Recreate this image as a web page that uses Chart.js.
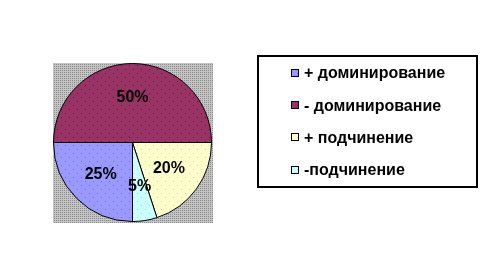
<!DOCTYPE html>
<html>
<head>
<meta charset="utf-8">
<script src="https://cdn.jsdelivr.net/npm/chart.js@4"></script>
<style>
  html, body { margin: 0; padding: 0; background: #fff; }
  #wrap { width: 499px; height: 259px; }
</style>
</head>
<body>
<div id="wrap"><canvas id="pieChart" width="499" height="259"></canvas></div>
<script>
// Chart data
const categories = ['+ доминирование', '- доминирование', '+ подчинение', '-подчинение'];
const shares = [25, 50, 20, 5];
const sliceLabels = ['25%', '50%', '20%', '5%'];

// Excel-like palette, with the darker dot colour of the fill texture
const sliceColors = ['#9999ff', '#993366', '#ffffcc', '#ccffff'];
const dotColors = ['#6e6ee0', '#5e1a40', '#d8d8a8', '#a0dcdc'];

const FONT = '"Liberation Sans", Arial, sans-serif';

// Small repeating tile with sparse dots, like the old Excel fills
function makeDots(base, dot) {
  const c = document.createElement('canvas');
  c.width = 8;
  c.height = 8;
  const g = c.getContext('2d');
  g.fillStyle = base;
  g.fillRect(0, 0, 8, 8);
  g.fillStyle = dot;
  g.fillRect(1, 1, 1, 1);
  g.fillRect(5, 5, 1, 1);
  return g.createPattern(c, 'repeat');
}

function makeGray() {
  const c = document.createElement('canvas');
  c.width = 2;
  c.height = 2;
  const g = c.getContext('2d');
  g.fillStyle = '#c4c4c4';
  g.fillRect(0, 0, 2, 2);
  g.fillStyle = '#8c8c8c';
  g.fillRect(0, 0, 1, 1);
  return g.createPattern(c, 'repeat');
}

const slicePatterns = sliceColors.map((col, i) => makeDots(col, dotColors[i]));
const grayPattern = makeGray();

// Gray plot area, percent labels and the boxed legend
const pieExtras = {
  id: 'pieExtras',
  beforeDatasetsDraw(chart) {
    const ctx = chart.ctx;
    const arc = chart.getDatasetMeta(0).data[0];
    const r = arc.outerRadius;
    ctx.save();
    ctx.fillStyle = grayPattern;
    ctx.fillRect(Math.round(arc.x - r - 1), Math.round(arc.y - r - 1), Math.round(2 * r + 2), Math.round(2 * r + 2));
    ctx.restore();
  },
  afterDatasetsDraw(chart) {
    const ctx = chart.ctx;
    const arcs = chart.getDatasetMeta(0).data;
    ctx.save();
    ctx.font = 'bold 16px ' + FONT;
    ctx.fillStyle = '#000';
    ctx.textAlign = 'center';
    ctx.textBaseline = 'middle';
    arcs.forEach((arc, i) => {
      const mid = (arc.startAngle + arc.endAngle) / 2;
      const dist = arc.outerRadius * 0.57;
      ctx.fillText(sliceLabels[i], arc.x + Math.cos(mid) * dist, arc.y + Math.sin(mid) * dist);
    });
    ctx.restore();
  },
  afterDraw(chart) {
    const ctx = chart.ctx;
    ctx.save();
    ctx.strokeStyle = '#000';
    ctx.lineWidth = 2;
    ctx.strokeRect(258, 56, 219, 131);
    ctx.font = 'bold 16px ' + FONT;
    ctx.textBaseline = 'middle';
    categories.forEach((name, i) => {
      const y = 73 + i * 32.2;
      ctx.fillStyle = slicePatterns[i];
      ctx.fillRect(291, Math.round(y) - 4, 8, 8);
      ctx.lineWidth = 1;
      ctx.strokeRect(291.5, Math.round(y) - 3.5, 7, 7);
      ctx.fillStyle = '#000';
      ctx.fillText(name, 304, y + 1);
    });
    ctx.restore();
  }
};

const ctx = document.getElementById('pieChart').getContext('2d');
const pieChart = new Chart(ctx, {
  type: 'pie',
  data: {
    labels: categories,
    datasets: [{
      data: shares,
      backgroundColor: slicePatterns,
      borderColor: '#000',
      borderWidth: 1,
      hoverOffset: 0
    }]
  },
  options: {
    responsive: false,
    animation: false,
    rotation: 180,
    layout: {
      padding: { left: 53, top: 63, right: 287, bottom: 37 }
    },
    plugins: {
      legend: { display: false },
      tooltip: { enabled: false }
    }
  },
  plugins: [pieExtras]
});
</script>
</body>
</html>
